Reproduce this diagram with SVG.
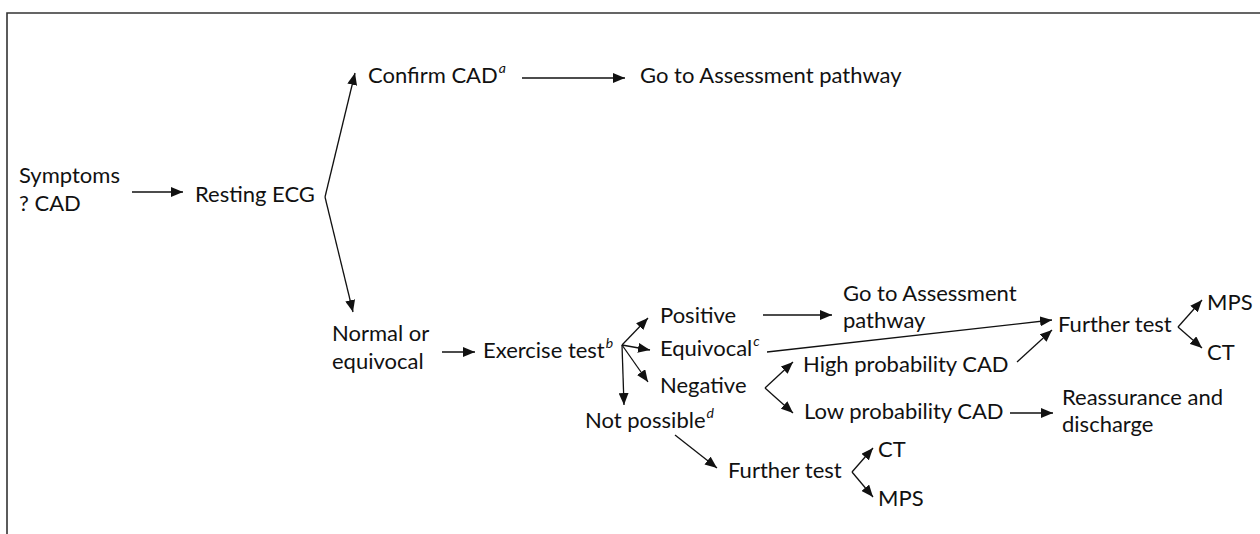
<svg xmlns="http://www.w3.org/2000/svg" width="1260" height="534" viewBox="0 0 1260 534">
<style>
  text { font-family: "Lato", "Open Sans", "Liberation Sans", sans-serif; font-size: 22px; fill: #111; }
  .sup { font-size: 14px; font-style: italic; }
  .c line { stroke: #111; stroke-width: 1.3; marker-end: url(#ah); }
  .frame { stroke: #333; stroke-width: 1.6; fill: none; }
</style>
<defs>
  <marker id="ah" markerUnits="userSpaceOnUse" markerWidth="12" markerHeight="10" refX="12" refY="5" orient="auto">
    <path d="M0,0 L12,5 L0,10 z" fill="#111"/>
  </marker>
</defs>
<rect width="1260" height="534" fill="#fff"/>
<path class="frame" d="M7,534 L7,13 L1260,13"/>

<g id="symptoms"><text x="19" y="183">Symptoms</text><text x="19" y="211">? CAD</text></g>
<g id="resting-ecg"><text x="195" y="202">Resting ECG</text></g>
<g id="confirm-cad"><text x="368" y="83">Confirm CAD<tspan class="sup" dx="1" dy="-10">a</tspan></text></g>
<g id="assessment1"><text x="640" y="83">Go to Assessment pathway</text></g>
<g id="normal"><text x="332" y="341">Normal or</text><text x="332" y="369">equivocal</text></g>
<g id="exercise"><text x="483" y="358">Exercise test<tspan class="sup" dx="1" dy="-10">b</tspan></text></g>
<g id="positive"><text x="660" y="323">Positive</text></g>
<g id="equivocal"><text x="660" y="356">Equivocal<tspan class="sup" dx="1" dy="-10">c</tspan></text></g>
<g id="negative"><text x="660" y="393">Negative</text></g>
<g id="not-possible"><text x="585" y="428">Not possible<tspan class="sup" dx="1" dy="-10">d</tspan></text></g>
<g id="assessment2"><text x="843" y="301">Go to Assessment</text><text x="843" y="328">pathway</text></g>
<g id="high-prob"><text x="803" y="372">High probability CAD</text></g>
<g id="further1"><text x="1058" y="332">Further test</text></g>
<g id="mps1"><text x="1207" y="310">MPS</text></g>
<g id="ct1"><text x="1207" y="360">CT</text></g>
<g id="low-prob"><text x="804" y="419">Low probability CAD</text></g>
<g id="reassurance"><text x="1062" y="405">Reassurance and</text><text x="1062" y="432">discharge</text></g>
<g id="further2"><text x="728" y="478">Further test</text></g>
<g id="ct2"><text x="878" y="457">CT</text></g>
<g id="mps2"><text x="878" y="506">MPS</text></g>

<g id="connectors" class="c">
  <line x1="132" y1="192" x2="183" y2="192"/>
  <line x1="325" y1="197" x2="355" y2="73"/>
  <line x1="325" y1="197" x2="353" y2="312"/>
  <line x1="522" y1="78" x2="625" y2="78"/>
  <line x1="442" y1="352" x2="475" y2="352"/>
  <line x1="622" y1="345" x2="648" y2="318"/>
  <line x1="622" y1="345" x2="650" y2="350"/>
  <line x1="622" y1="345" x2="648" y2="382"/>
  <line x1="622" y1="345" x2="624" y2="405"/>
  <line x1="763" y1="315" x2="832" y2="315"/>
  <line x1="767" y1="352" x2="1052" y2="320"/>
  <line x1="765" y1="388" x2="793" y2="362"/>
  <line x1="765" y1="388" x2="793" y2="413"/>
  <line x1="1017" y1="362" x2="1052" y2="330"/>
  <line x1="1178" y1="327" x2="1202" y2="300"/>
  <line x1="1178" y1="327" x2="1202" y2="348"/>
  <line x1="1010" y1="413" x2="1053" y2="413"/>
  <line x1="675" y1="435" x2="717" y2="468"/>
  <line x1="852" y1="472" x2="873" y2="448"/>
  <line x1="852" y1="472" x2="873" y2="497"/>
</g>
</svg>
